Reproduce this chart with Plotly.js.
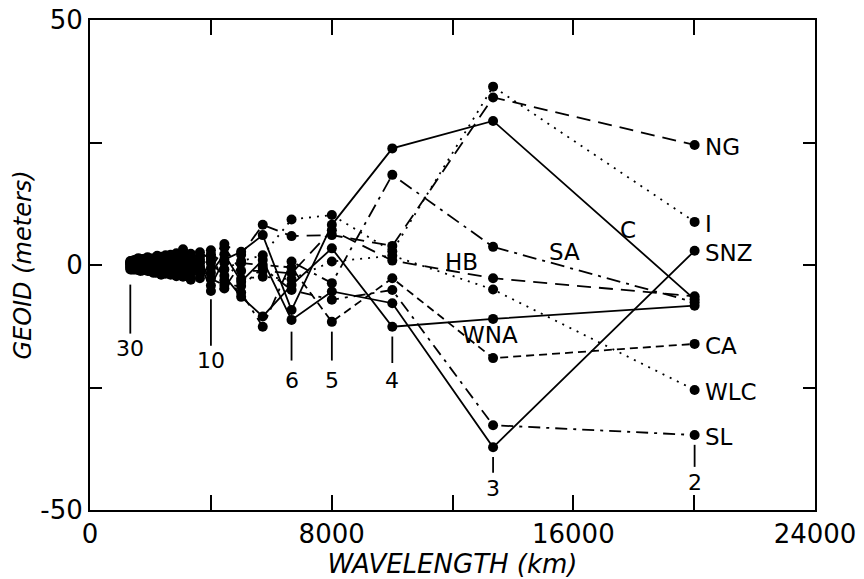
<!DOCTYPE html>
<html>
<head>
<meta charset="utf-8">
<script src="https://cdn.plot.ly/plotly-3.0.1.min.js"></script>
<style>html,body{margin:0;padding:0;background:#fff}#chart{width:864px;height:579px}</style>
</head>
<body>
<div id="chart"></div>
<script>
// spherical harmonic degrees, wavelength = 40030 / n km
const degrees = [30,29,28,27,26,25,24,23,22,21,20,19,18,17,16,15,14,13,12,11,10,9,8,7,6,5,4,3,2];
const EARTH_CIRC = 40030;

// geoid (meters) per region, ordered as the degrees above
const NG  = [0.4,0.8,-0.3,1.0,0.2,1.4,-0.5,0.9,0.3,1.6,0.7,-0.8,1.9,0.4,-1.2,2.1,0.6,1.8,-1.5,2.6,1.2,4.3,2.1, 8.2,5.9,6.1,3.9,34.2,24.5];
const I   = [-0.2,0.3,0.9,-0.6,0.5,0.1,1.1,-0.4,0.8,-0.9,1.3,0.6,-0.5,1.7,0.9,-0.7,2.4,-1.1,1.4,0.3,3.0,-0.9,0.8, 2.0,9.3,10.2,2.8,36.4,8.8];
const SNZ = [0.6,-0.5,0.2,0.7,-0.9,0.4,-0.2,1.2,-1.0,0.5,-0.6,1.4,0.3,-1.4,1.1,0.8,-1.6,0.9,2.3,-1.9,-1.6,2.2,-3.4, 1.0,-11.2,-5.4,-7.8,-37.2,2.9];
const C   = [-0.4,0.1,-0.8,0.3,0.6,-0.7,0.8,0.2,-0.6,1.0,0.1,-1.1,0.7,1.2,-0.6,-1.3,1.1,-2.4,0.6,1.8,-4.2,1.1,2.7, 6.1,-9.2,8.2,23.8,29.4,-7.0];
const SA  = [0.1,-0.7,0.5,-0.3,-0.2,0.9,-0.9,-0.6,1.2,-0.4,-1.3,0.8,-1.2,-0.3,2.0,0.5,-0.9,3.2,-0.8,-1.0,1.8,-3.1,-5.6, -12.6,0.7,-3.7,18.4,3.7,-7.6];
const HB  = [0.8,0.2,-0.5,-0.9,1.1,-0.3,0.5,-1.1,0.1,0.7,0.9,-0.2,1.3,-0.9,0.4,1.6,-2.3,0.2,-2.6,1.1,-0.6,3.5,-1.2, -1.2,-1.7,7.1,0.9,-2.7,-6.4];
const WNA = [-0.6,0.5,0.3,0.1,-0.5,-1.0,0.3,0.6,-0.9,-0.7,0.4,0.2,-1.6,0.9,-1.8,-0.2,1.5,-1.5,0.9,-2.7,0.4,-2.2,-6.5, -10.5,-4.1,3.4,-12.6,-11.0,-8.3];
const CA  = [0.2,-0.3,-0.9,0.5,0.9,0.2,-1.2,-0.8,0.5,0.2,-0.9,1.0,0.5,-2.0,0.6,-2.0,0.3,-0.6,-3.0,0.7,-5.3,-4.8,0.4, 0.0,-0.5,-11.6,-2.7,-19.0,-16.1];
const WLC = [-0.9,0.6,0.7,-0.4,-0.2,0.6,0.9,0.4,-0.3,-1.2,-0.2,-1.6,-0.2,0.5,-0.3,1.0,-0.5,2.5,0.2,-0.4,2.2,0.5,-2.8, -2.4,-2.9,0.7,1.9,-5.0,-25.5];
const SL  = [0.5,-0.9,0.1,-0.1,0.3,-0.5,-0.7,-0.2,1.0,-0.1,0.5,0.4,-0.9,-0.6,1.3,-0.8,-1.3,-0.4,1.7,-1.4,-2.8,-4.1,-4.3, -0.6,-5.1,-7.1,-5.1,-32.7,-34.7];

const seriesNames = ['NG','I','SNZ','C','SA','HB','WNA','CA','WLC','SL'];
const seriesData  = [NG, I, SNZ, C, SA, HB, WNA, CA, WLC, SL];
// labelled degrees under the curves
const markedDegrees = [30,10,6,5,4,3,2];

// ---- styles / positions (not data) ----
const dashes = {
  NG:'14px,8px', I:'2px,6px', SNZ:'solid', C:'solid', SA:'14px,6px,3px,6px',
  HB:'14px,8px', WNA:'solid', CA:'8px,5px', WLC:'2px,6px', SL:'12px,6px,3px,6px'
};
const endLabels = ['NG','I','SNZ','CA','WLC','SL'];
const midLabels = {HB:[12300,0.6], SA:[15700,2.7], C:[17800,7.1], WNA:[13250,-14.3]};
const tickSpan = {30:[-4,-14,-17],10:[-7,-16.5,-19.5],6:[-13.6,-19.5,-23.6],5:[-13.6,-19.5,-23.6],4:[-14.6,-20,-23.6],3:[-39.2,-42.4,-45.6],2:[-36.7,-41.2,-44.4]};

const wl = degrees.map(n => EARTH_CIRC / n);
const font = 'DejaVu Sans, Arial, sans-serif';

const traces = seriesNames.map((nm, k) => ({
  type:'scatter', mode:'lines+markers', name:nm,
  x: wl, y: seriesData[k],
  line:{color:'#000', width:1.8, dash:dashes[nm]},
  marker:{color:'#000', size:10},
  showlegend:false, hoverinfo:'skip'
}));

const annotations = [];
const shapes = [];
endLabels.forEach(nm => {
  const arr = seriesData[seriesNames.indexOf(nm)];
  annotations.push({x: wl[wl.length-1], y: arr[arr.length-1], xref:'x', yref:'y', text:nm,
    showarrow:false, xanchor:'left', xshift:8, yshift:-2, font:{family:font, size:23, color:'#000'}});
});
Object.keys(midLabels).forEach(nm => {
  annotations.push({x: midLabels[nm][0], y: midLabels[nm][1], xref:'x', yref:'y', text:nm,
    showarrow:false, font:{family:font, size:23, color:'#000'}});
});
markedDegrees.forEach(n => {
  const x = EARTH_CIRC / n;
  const s = tickSpan[n];
  shapes.push({type:'line', xref:'x', yref:'y', x0:x, x1:x, y0:s[0], y1:s[1], line:{color:'#000', width:1.8}});
  annotations.push({x:x, y:s[2], xref:'x', yref:'y', text:String(n), showarrow:false,
    font:{family:font, size:22, color:'#000'}});
});

const tv = [0,4000,8000,12000,16000,20000,24000];
const layout = {
  width:864, height:579,
  margin:{l:90, r:49, t:20, b:69},
  paper_bgcolor:'#fff', plot_bgcolor:'#fff',
  font:{family:font, color:'#000'},
  xaxis:{
    range:[0,24000], tickvals:tv, ticktext:['0','','8000','','16000','','24000'],
    ticks:'inside', ticklen:15, tickwidth:2, tickcolor:'#000',
    showline:true, linewidth:2, linecolor:'#000', mirror:'ticks',
    showgrid:false, zeroline:false,
    tickfont:{family:font, size:26, color:'#000'},
    title:{text:'WAVELENGTH (km)', font:{family:font, size:26, style:'italic', color:'#000'}, standoff:4}
  },
  yaxis:{
    range:[-50,50], tickvals:[-50,-25,0,25,50], ticktext:['-50','','0','','50'],
    ticks:'inside', ticklen:12, tickwidth:2, tickcolor:'#000',
    showline:true, linewidth:2, linecolor:'#000', mirror:'ticks',
    showgrid:false, zeroline:false,
    tickfont:{family:font, size:26, color:'#000'},
    title:{text:'GEOID (meters)', font:{family:font, size:24, style:'italic', color:'#000'}, standoff:2}
  },
  annotations: annotations,
  shapes: shapes
};

Plotly.newPlot('chart', traces, layout, {staticPlot:true, displayModeBar:false});
</script>
</body>
</html>
